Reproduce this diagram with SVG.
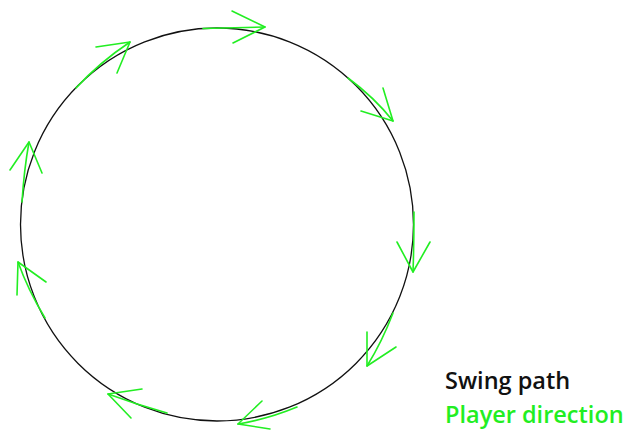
<svg xmlns="http://www.w3.org/2000/svg" width="623" height="430" viewBox="0 0 623 430">
<style>
.path{fill:none;stroke:#111;stroke-width:1.3}
.arr{fill:none;stroke:#22ee22;stroke-width:1.6;stroke-linecap:round;stroke-linejoin:round}
.t{font-family:"Open Sans","Noto Sans",sans-serif;font-size:23.5px;font-weight:600}
</style>
<rect width="623" height="430" fill="#fff"/>
<g id="swing-path"><circle class="path" cx="217" cy="224.5" r="196.5"/></g>
<g id="connectors">
<polyline class="arr" points="203,28.5 265,27"/><polyline class="arr" points="232,11 265,27 233,43"/>
<path class="arr" d="M76,88 Q100,62 130,42"/><polyline class="arr" points="96,47 130,42 117,73"/>
<path class="arr" d="M348,78 Q375,98 393,121"/><polyline class="arr" points="383,88 393,121 361,111"/>
<path class="arr" d="M414,212 Q414,245 413,272"/><polyline class="arr" points="397,242 413,272 430,242"/>
<path class="arr" d="M393,313 Q382,342 367,366"/><polyline class="arr" points="367,332 367,366 396,347"/>
<path class="arr" d="M297,407 Q268,419 238,424"/><polyline class="arr" points="262,401 238,424 270,429"/>
<path class="arr" d="M167,413 Q138,405 108,394"/><polyline class="arr" points="142,389 108,394 131,418"/>
<path class="arr" d="M22,202 Q24,170 29,142"/><polyline class="arr" points="10,170 29,142 42,173"/>
<path class="arr" d="M45,318 Q28,290 18,262"/><polyline class="arr" points="17,295 18,262 46,282"/>
</g>
<g id="legend">
<text class="t" x="445" y="389" fill="#111">Swing path</text>
<text class="t" x="445" y="423" fill="#22ee22">Player direction</text>
</g>
</svg>
